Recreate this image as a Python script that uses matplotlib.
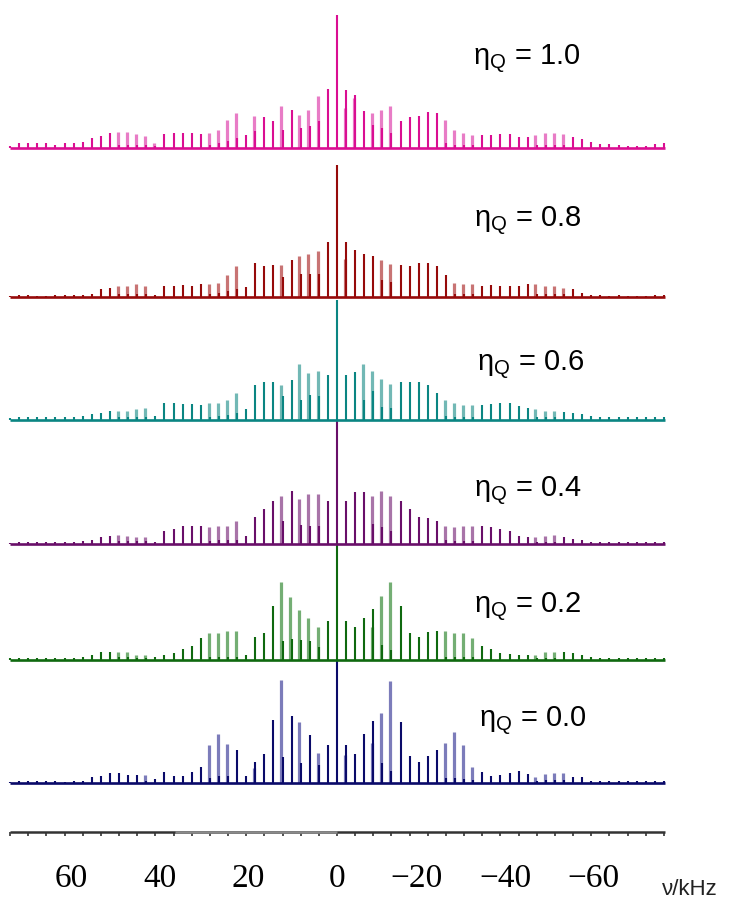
import numpy as np
import matplotlib.pyplot as plt

plt.rcParams['font.family'] = ['Liberation Sans', 'DejaVu Sans']
plt.rcParams['mathtext.fontset'] = 'custom'
plt.rcParams['mathtext.rm'] = 'Liberation Sans'

# ------------------------------------------------------------
# data: sideband intensities, sidebands k = +36 ... -36 (left -> right)
# "dark" = main stick spectrum, "light" = second (pale) component
# ------------------------------------------------------------
eta_labels = ['1.0', '0.8', '0.6', '0.4', '0.2', '0.0']
dark_colors = ['#DA0E92', '#960A0A', '#0A8582', '#690F69', '#0F690F', '#0A0A69']
light_colors = ['#E87CC6', '#C87474', '#72B8B5', '#A874A8', '#74AE74', '#7C7CBA']

dark_10 = [5, 14, 14, 14, 14, 8, 14, 14, 17, 29, 35, 44, 8, 8, 8, 8, 5, 41, 44, 44,
           44, 41, 10, 15, 20, 30, 40, 50, 92, 80, 55, 113, 60, 67, 80, 178,
           398,
           175, 160, 110, 68, 60, 45, 80, 92, 95, 107, 104, 15, 10, 8, 8, 40, 40, 43, 42, 34,
           34, 8, 8, 8, 8, 34, 28, 18, 12, 12, 9, 7, 5, 7, 12, 16]
light_10 = [0, 0, 0, 0, 0, 0, 0, 0, 0, 0, 0, 0, 47, 47, 41, 35, 14, 0, 0, 0,
            0, 0, 44, 53, 83, 104, 0, 95, 0, 0, 125, 0, 98, 113, 155, 0,
            0,
            120, 150, 0, 104, 113, 125, 0, 0, 0, 0, 0, 83, 53, 44, 38, 0, 0, 0, 0, 0,
            0, 40, 46, 46, 42, 0, 0, 0, 0, 0, 0, 0, 0, 0, 0, 0]

dark_08 = [4, 7, 5, 4, 4, 5, 5, 5, 7, 8, 25, 28, 8, 8, 8, 8, 5, 34, 34, 37,
           34, 40, 10, 12, 18, 25, 31, 102, 94, 97, 60, 112, 70, 70, 70, 165,
           397,
           165, 142, 130, 123, 50, 45, 97, 94, 102, 102, 94, 67, 10, 10, 10, 34, 37, 34, 34, 34,
           40, 8, 8, 8, 8, 25, 12, 7, 5, 4, 5, 4, 4, 4, 7, 7]
light_08 = [0, 0, 0, 0, 0, 0, 0, 0, 0, 0, 0, 0, 34, 34, 40, 34, 0, 0, 0, 0,
            0, 0, 40, 43, 67, 94, 0, 0, 0, 0, 97, 0, 123, 130, 139, 0,
            0,
            115, 0, 0, 0, 112, 100, 0, 0, 0, 0, 0, 0, 43, 40, 40, 0, 0, 0, 0, 0,
            0, 40, 34, 34, 28, 0, 0, 0, 0, 0, 0, 0, 0, 0, 0, 0]

dark_06 = [5, 9, 9, 9, 9, 9, 9, 9, 11, 18, 21, 26, 8, 8, 8, 8, 11, 51, 51, 48,
           48, 46, 10, 12, 15, 21, 33, 105, 115, 115, 73, 121, 60, 75, 73, 135,
           361,
           135, 145, 60, 88, 40, 35, 115, 115, 115, 105, 81, 12, 10, 10, 10, 46, 48, 51, 51, 43,
           36, 8, 8, 8, 23, 21, 18, 11, 8, 8, 8, 8, 8, 8, 8, 8]
light_06 = [0, 0, 0, 0, 0, 0, 0, 0, 0, 0, 0, 0, 28, 28, 33, 36, 0, 0, 0, 0,
            0, 0, 51, 51, 60, 81, 0, 0, 0, 0, 105, 0, 168, 141, 147, 0,
            0,
            0, 0, 168, 147, 123, 108, 0, 0, 0, 0, 0, 60, 51, 46, 46, 0, 0, 0, 0, 0,
            0, 33, 28, 28, 0, 0, 0, 0, 0, 0, 0, 0, 0, 0, 0, 0]

dark_04 = [3, 5, 5, 5, 5, 5, 5, 6, 8, 13, 20, 23, 8, 8, 8, 8, 6, 38, 46, 53,
           53, 53, 10, 12, 12, 13, 25, 80, 106, 128, 68, 158, 56, 53, 53, 130,
           368,
           128, 155, 155, 60, 50, 40, 128, 106, 80, 78, 68, 12, 10, 10, 10, 53, 50, 46, 38, 23,
           20, 6, 6, 6, 20, 16, 13, 6, 5, 5, 5, 5, 5, 5, 5, 5]
light_04 = [0, 0, 0, 0, 0, 0, 0, 0, 0, 0, 0, 0, 26, 23, 20, 20, 0, 0, 0, 0,
            0, 0, 50, 53, 53, 68, 0, 0, 0, 0, 143, 0, 136, 150, 150, 0,
            0,
            0, 0, 0, 143, 158, 143, 0, 0, 0, 0, 0, 53, 50, 53, 53, 0, 0, 0, 0, 0,
            0, 20, 23, 26, 0, 0, 0, 0, 0, 0, 0, 0, 0, 0, 0, 0]

dark_02 = [6, 6, 6, 6, 6, 6, 6, 6, 10, 16, 23, 25, 8, 8, 6, 6, 8, 14, 22, 33,
           43, 67, 10, 10, 10, 10, 16, 70, 82, 163, 58, 63, 60, 58, 40, 118,
           350,
           118, 100, 126, 153, 45, 30, 163, 82, 70, 83, 88, 10, 10, 10, 10, 43, 33, 22, 18, 15,
           15, 6, 6, 6, 25, 20, 16, 10, 6, 6, 6, 6, 6, 6, 6, 6]
light_02 = [0, 0, 0, 0, 0, 0, 0, 0, 0, 0, 0, 0, 25, 23, 16, 16, 0, 0, 0, 0,
            0, 0, 82, 82, 88, 86, 0, 0, 0, 0, 233, 190, 151, 125, 100, 0,
            0,
            0, 0, 0, 100, 193, 233, 0, 0, 0, 0, 0, 88, 82, 82, 66, 0, 0, 0, 0, 0,
            0, 16, 23, 25, 0, 0, 0, 0, 0, 0, 0, 0, 0, 0, 0, 0]

dark_00 = [4, 5, 5, 5, 5, 5, 4, 5, 5, 18, 21, 31, 31, 25, 23, 6, 13, 33, 22, 22,
           34, 49, 15, 20, 20, 100, 22, 63, 88, 190, 78, 201, 60, 145, 53, 115,
           368,
           115, 88, 148, 185, 60, 36, 183, 81, 63, 81, 100, 15, 15, 12, 10, 33, 21, 23, 31, 35,
           28, 6, 8, 8, 8, 18, 18, 6, 5, 5, 5, 5, 5, 5, 5, 5]
light_00 = [0, 0, 0, 0, 0, 0, 0, 0, 0, 0, 0, 0, 0, 0, 0, 25, 0, 0, 0, 0,
            0, 0, 115, 148, 118, 0, 0, 45, 0, 0, 310, 0, 183, 0, 91, 0,
            0,
            85, 0, 0, 120, 211, 306, 0, 0, 0, 0, 0, 120, 153, 115, 48, 0, 0, 0, 0, 0,
            0, 18, 26, 31, 31, 0, 0, 0, 0, 0, 0, 0, 0, 0, 0, 0]

dark_sets = [dark_10, dark_08, dark_06, dark_04, dark_02, dark_00]
light_sets = [light_10, light_08, light_06, light_04, light_02, light_00]

tick_labels = ['60', '40', '20', '0', '\u221220', '\u221240', '\u221260']
tick_values = [60, 40, 20, 0, -20, -40, -60]

# ------------------------------------------------------------
# layout (figure pixel units, y measured from bottom)
# ------------------------------------------------------------
W, H = 740, 902
px_per_khz = 4.43
x_zero = 337
spacing = 2.05                      # sideband spacing, kHz
k = np.arange(36, -37, -1)
freq = k * spacing
x_lo, x_hi = 73.8, -74.0
baselines = [H - 148, H - 297, H - 420, H - 544, H - 660, H - 783]
label_base = [H - 65, H - 227, H - 371, H - 497, H - 613, H - 727]
label_x = [473, 474, 477, 474, 474, 479]
scale = 1 / 3.0

fig = plt.figure(figsize=(W / 100, H / 100), dpi=100)
ax = fig.add_axes([0, 0, 1, 1])
ax.set_xlim(x_zero / px_per_khz, -(W - x_zero) / px_per_khz)
ax.set_ylim(0, H)
ax.axis('off')

def px2khz(px):
    return (x_zero - px) / px_per_khz

for i in range(6):
    b = baselines[i]
    d = np.array(dark_sets[i]) * scale
    l = np.array(light_sets[i]) * scale
    m = l > 0
    ax.vlines(freq[m] + 0.3, b, b + l[m], colors=light_colors[i], lw=2.3, zorder=2)
    ax.vlines(freq, b, b + d, colors=dark_colors[i], lw=1.5, zorder=3)
    ax.hlines(b, x_lo, x_hi, colors=dark_colors[i], lw=1.9, zorder=4)
    ax.text(px2khz(label_x[i]), label_base[i],
            r'$\mathregular{\eta_Q}$ = ' + eta_labels[i],
            fontsize=21, ha='left', va='baseline', color='black')

# frequency axis
y_ax = H - 832
ax.hlines(y_ax, x_lo, x_hi, colors='#333333', lw=1.8)
ax.hlines(y_ax, px2khz(175), 0, colors='#8a8a8a', lw=1.8, zorder=3)
tick_pos = freq[k % 2 == 0]
ax.vlines(tick_pos, y_ax - 4, y_ax, colors='#333333', lw=1.2)

for lab, v in zip(tick_labels, tick_values):
    if v < 0:
        ax.text(v - 3.8, H - 887, lab, family='Liberation Serif', fontsize=24,
                ha='right', va='baseline', color='black')
    else:
        ax.text(v, H - 887, lab, family='Liberation Serif', fontsize=24,
                ha='center', va='baseline', color='black')

ax.text(px2khz(662), 7, '\u03bd/kHz', fontsize=16, ha='left', va='baseline',
        color='#222222')

plt.savefig('out.png', dpi=100)
plt.close()
